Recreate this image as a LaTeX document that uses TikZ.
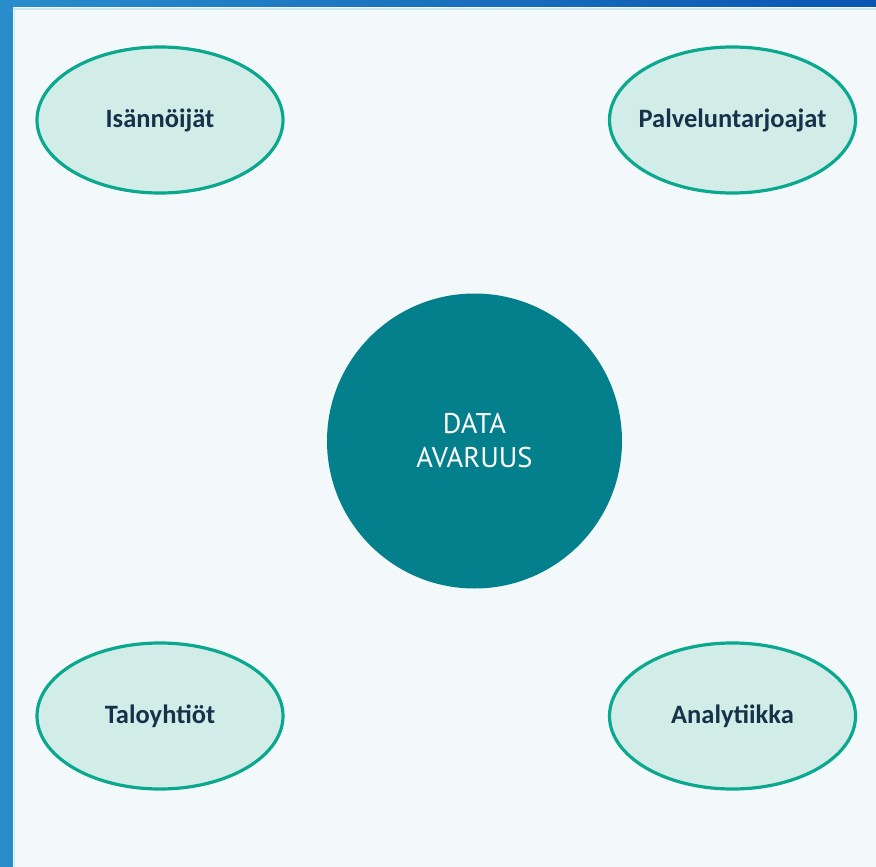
\documentclass[tikz,border=0pt]{standalone}
\usepackage{fontspec}
\setmainfont{Carlito}
\newfontfamily\centerfont{PT Sans}
\usetikzlibrary{shapes.geometric}
\definecolor{bandL}{HTML}{2A8DCB}
\definecolor{bandR}{HTML}{0A55B2}
\definecolor{panel}{HTML}{F3F9FA}
\definecolor{panelline}{HTML}{CDE6EA}
\definecolor{ellfill}{HTML}{D2EDE8}
\definecolor{elldraw}{HTML}{0AA88F}
\definecolor{hub}{HTML}{047F8C}
\definecolor{navy}{HTML}{16324A}
\tikzset{
  party/.style={ellipse, draw=elldraw, fill=ellfill, line width=3.2pt,
    minimum width=246pt, minimum height=146pt, inner sep=0pt,
    label={[font=\fontsize{26.5}{30}\selectfont\bfseries, text=navy]center:#1}},
  hubnode/.style={circle, fill=hub, minimum size=295pt, inner sep=0pt,
    align=center, text=white, font=\centerfont\fontsize{28.5}{34}\selectfont}
}
\begin{document}
\begin{tikzpicture}[x=1pt,y=-1pt]
\useasboundingbox (0,0) rectangle (876,867);
\fill[bandL] (0,0) rectangle (14,867);
\shade[left color=bandL, right color=bandR] (0,0) rectangle (876,8);
\fill[panel] (13,7) rectangle (876,867);
\draw[panelline, line width=2pt] (13,9) -- (876,9);
\draw[panelline, line width=1pt] (14,9) -- (14,867);
\node[party=Isännöijät] (isa) at (160,120) {};
\node[party=Palveluntarjoajat] (pal) at (732.5,120) {};
\node[party=Taloyhtiöt] (tal) at (160,716) {};
\node[party=Analytiikka] (ana) at (732.5,716) {};
\node[hubnode] (hub) at (474.5,441) {DATA\\AVARUUS};
\end{tikzpicture}
\end{document}
